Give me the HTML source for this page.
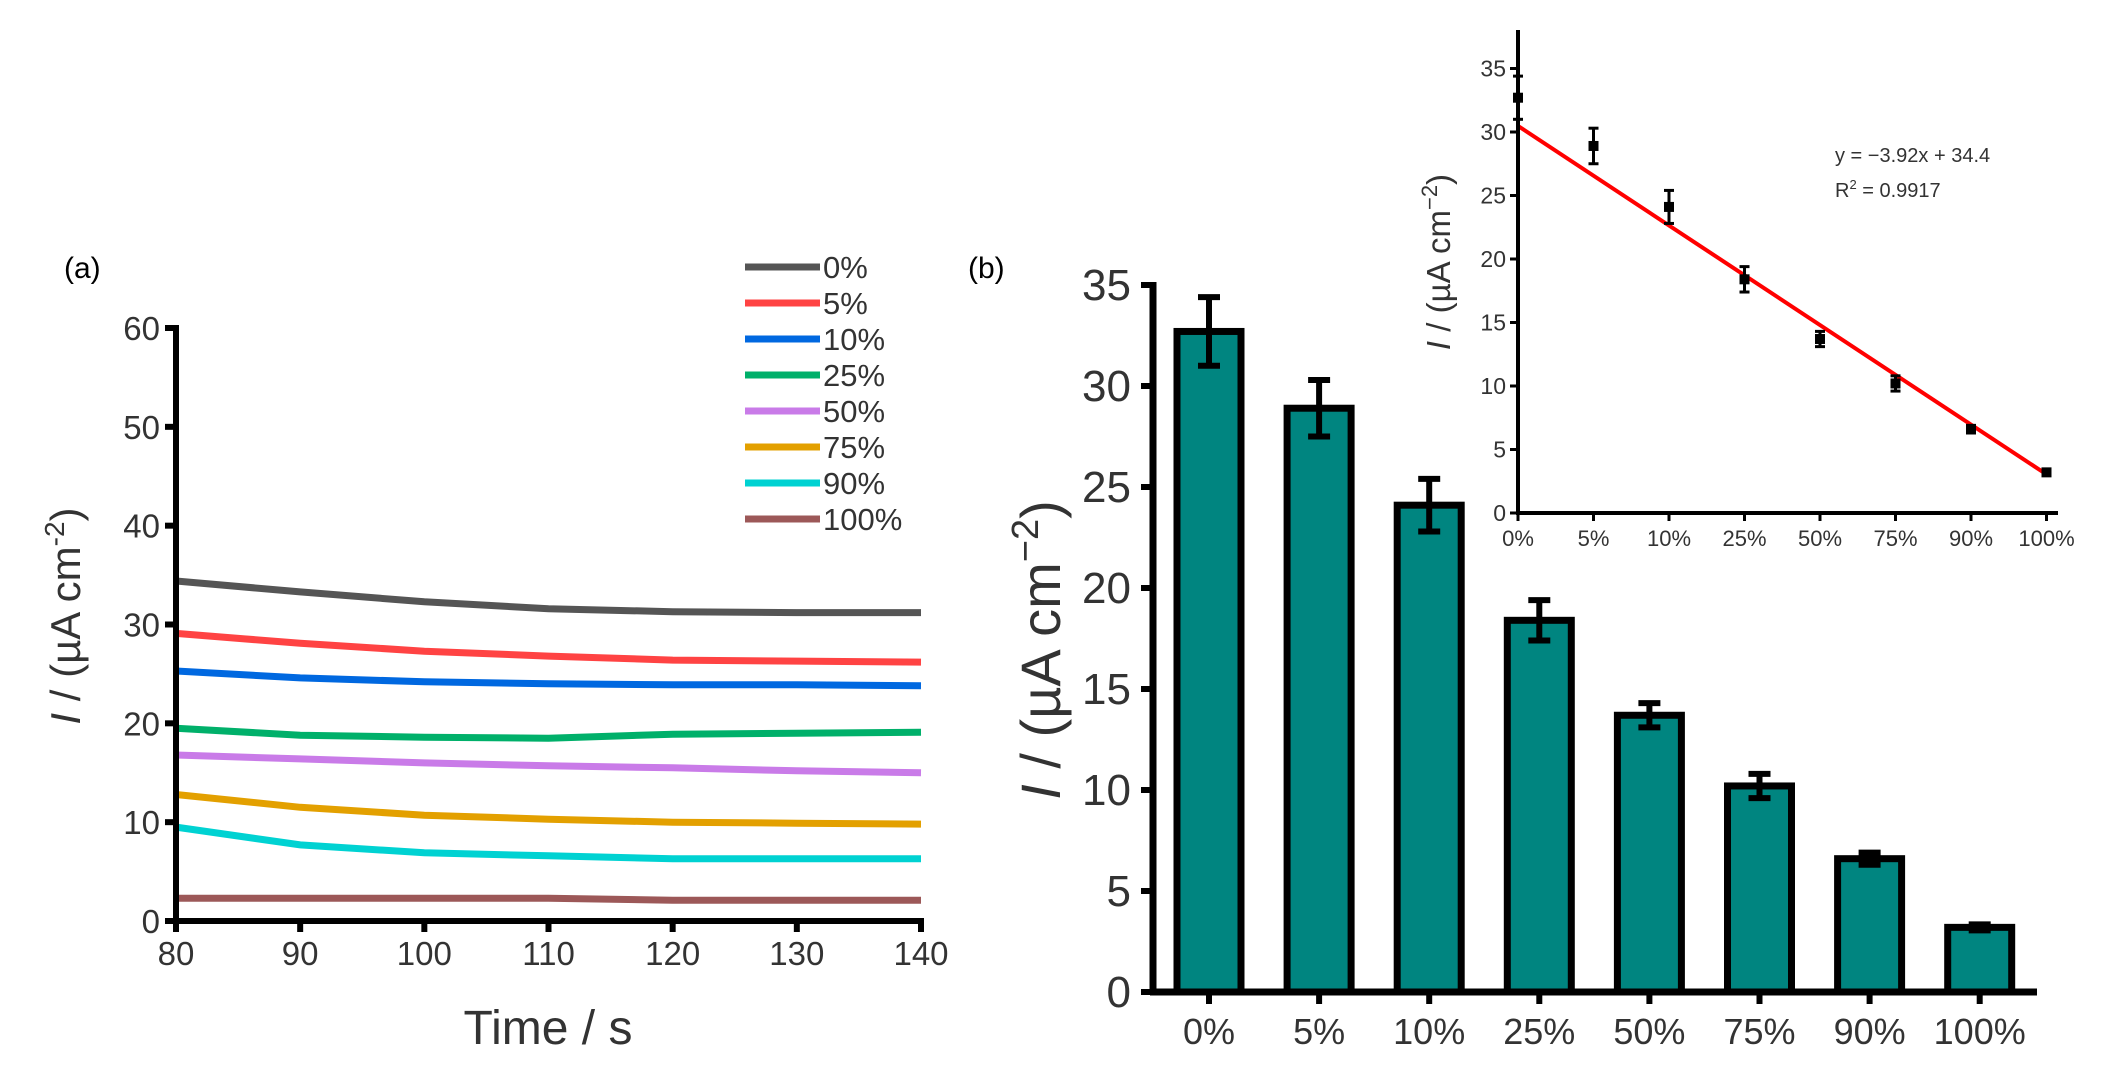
<!DOCTYPE html>
<html><head><meta charset="utf-8"><style>
html,body{margin:0;padding:0;background:#fff;}
svg{display:block;font-family:"Liberation Sans",Arial,sans-serif;}
</style></head><body>
<svg id="fig" width="2123" height="1089" viewBox="0 0 2123 1089"></svg>
<script>
const timeX=[80,90,100,110,120,130,140];
const seriesNames=["0%","5%","10%","25%","50%","75%","90%","100%"];
const seriesColors=["#555555","#ff4343","#0068e0","#00b06a","#c97be8","#e3a000","#00d2d2","#9c5858"];
const s0=[34.4,33.3,32.3,31.6,31.3,31.2,31.2];
const s5=[29.1,28.1,27.3,26.8,26.4,26.3,26.2];
const s10=[25.3,24.6,24.2,24.0,23.9,23.9,23.8];
const s25=[19.5,18.8,18.6,18.5,18.9,19.0,19.1];
const s50=[16.8,16.4,16.0,15.7,15.5,15.2,15.0];
const s75=[12.8,11.5,10.7,10.3,10.0,9.9,9.8];
const s90=[9.5,7.7,6.9,6.6,6.3,6.3,6.3];
const s100=[2.3,2.3,2.3,2.3,2.1,2.1,2.1];
const aYTicks=[0,10,20,30,40,50,60];
const aXTicks=[80,90,100,110,120,130,140];
const barCats=["0%","5%","10%","25%","50%","75%","90%","100%"];
const barVals=[32.7,28.9,24.1,18.4,13.7,10.2,6.6,3.2];
const barErr=[1.7,1.4,1.3,1.0,0.6,0.6,0.3,0.15];
const bYTicks=[0,5,10,15,20,25,30,35];
const insetYTicks=[0,5,10,15,20,25,30,35];
const fitSlope=-3.92, fitIntercept=34.4;

const NS="http://www.w3.org/2000/svg";
const svg=document.getElementById('fig');
function mk(tag,attrs,parent){const e=document.createElementNS(NS,tag);for(const k in attrs)e.setAttribute(k,attrs[k]);(parent||svg).appendChild(e);return e;}
function txt(s,attrs,parent){const e=mk('text',attrs,parent);e.textContent=s;return e;}

// ---------- Panel a ----------
const ax0=176, ax1=921, ay0=921, ay1=328;
const axX=v=>ax0+(v-80)/60*(ax1-ax0);
const axY=v=>ay0-(v/60)*(ay0-ay1);
const ga=mk('g',{});


let t=txt('(a)',{x:64,y:278,'font-size':30,fill:'#000'},ga);

const series=[s0,s5,s10,s25,s50,s75,s90,s100];
series.forEach((s,i)=>{
  let d='';
  s.forEach((v,j)=>{d+=(j?'L':'M')+axX(timeX[j]).toFixed(1)+','+axY(v).toFixed(1);});
  const p=mk('path',{d:d,fill:'none',stroke:seriesColors[i],'stroke-width':7},ga);
  
  
});
let l=mk('line',{x1:ax0,y1:ay1-3,x2:ax0,y2:ay0,stroke:'#000','stroke-width':6},ga);

l=mk('line',{x1:ax0-3,y1:ay0,x2:ax1+3,y2:ay0,stroke:'#000','stroke-width':6},ga);

aYTicks.forEach(v=>{
  mk('line',{x1:ax0-11,y1:axY(v),x2:ax0,y2:axY(v),stroke:'#000','stroke-width':6},ga);
  const e=txt(String(v),{x:ax0-16,y:axY(v)+12,'text-anchor':'end','font-size':33,fill:'#333'},ga);
  
  
});
aXTicks.forEach(v=>{
  mk('line',{x1:axX(v),y1:ay0,x2:axX(v),y2:ay0+11,stroke:'#000','stroke-width':6},ga);
  const e=txt(String(v),{x:axX(v),y:ay0+44,'text-anchor':'middle','font-size':33,fill:'#333'},ga);
  
  
});
t=txt('Time / s',{x:548,y:1044,'text-anchor':'middle','font-size':48,fill:'#333'},ga);

t=mk('text',{x:0,y:0,transform:'translate(80,616) rotate(-90)','text-anchor':'middle','font-size':42,fill:'#333'},ga);
t.innerHTML='<tspan font-style="italic">I</tspan> / (µA cm<tspan dy="-16" font-size="28">-2</tspan><tspan dy="16">)</tspan>';

seriesNames.forEach((n,i)=>{
  const y=267+i*36;
  const g=mk('g',{},ga);
  
  
  mk('line',{x1:745,y1:y,x2:820,y2:y,stroke:seriesColors[i],'stroke-width':7},g);
  txt(n,{x:823,y:y+11,'font-size':31,fill:'#333'},g);
});

// ---------- Panel b ----------
const bx0=1153, bx1=2037, by0=992, by1=285;
const bY=v=>by0-(v/35)*(by0-by1);
const bX=i=>1209+i*110.1;
const gb=mk('g',{});


t=txt('(b)',{x:968,y:278,'font-size':30,fill:'#000'},gb);

barVals.forEach((v,i)=>{
  const r=mk('rect',{x:bX(i)-32,y:bY(v),width:64,height:by0-bY(v),fill:'#008580',stroke:'#000','stroke-width':7},gb);
  
  
  const g=mk('g',{stroke:'#000','stroke-width':6},gb);
  
  
  const yt=bY(v+barErr[i]), yb=bY(v-barErr[i]);
  mk('line',{x1:bX(i),y1:yt,x2:bX(i),y2:yb},g);
  mk('line',{x1:bX(i)-11,y1:yt,x2:bX(i)+11,y2:yt},g);
  mk('line',{x1:bX(i)-11,y1:yb,x2:bX(i)+11,y2:yb},g);
});
l=mk('line',{x1:bx0,y1:by1-3,x2:bx0,y2:by0,stroke:'#000','stroke-width':7},gb);

l=mk('line',{x1:bx0-3,y1:by0,x2:bx1,y2:by0,stroke:'#000','stroke-width':7},gb);

bYTicks.forEach(v=>{
  mk('line',{x1:bx0-12,y1:bY(v),x2:bx0,y2:bY(v),stroke:'#000','stroke-width':6},gb);
  const e=txt(String(v),{x:bx0-22,y:bY(v)+15,'text-anchor':'end','font-size':44,fill:'#333'},gb);
  
  
});
barCats.forEach((c,i)=>{
  mk('line',{x1:bX(i),y1:by0,x2:bX(i),y2:by0+12,stroke:'#000','stroke-width':6},gb);
  const e=txt(c,{x:bX(i),y:by0+52,'text-anchor':'middle','font-size':36,fill:'#333'},gb);
  
  
});
t=mk('text',{x:0,y:0,transform:'translate(1060,650) rotate(-90)','text-anchor':'middle','font-size':56,fill:'#333'},gb);
t.innerHTML='<tspan font-style="italic">I</tspan> / (µA cm<tspan dy="-22" font-size="38">−2</tspan><tspan dy="22">)</tspan>';


// ---------- Inset ----------
const ix0=1518, iy0=513, iyTop=30;
const iY=v=>iy0-v*12.7;
const iX=i=>ix0+i*75.5;
const gi=mk('g',{});


const fx0=1, fx1=barCats.length;
let fl=mk('line',{x1:iX(0),y1:iY(fitSlope*fx0+fitIntercept),x2:iX(fx1-1),y2:iY(fitSlope*fx1+fitIntercept),stroke:'#ff0000','stroke-width':4},gi);

barVals.forEach((v,i)=>{
  const g=mk('g',{stroke:'#000','stroke-width':3,fill:'#000'},gi);
  
  
  const yt=iY(v+barErr[i]), yb=iY(v-barErr[i]);
  mk('line',{x1:iX(i),y1:yt,x2:iX(i),y2:yb},g);
  mk('line',{x1:iX(i)-5,y1:yt,x2:iX(i)+5,y2:yt},g);
  mk('line',{x1:iX(i)-5,y1:yb,x2:iX(i)+5,y2:yb},g);
  mk('rect',{x:iX(i)-5,y:iY(v)-5,width:10,height:10,stroke:'none'},g);
});
l=mk('line',{x1:ix0,y1:iyTop,x2:ix0,y2:iy0,stroke:'#000','stroke-width':4},gi);

l=mk('line',{x1:ix0-2,y1:iy0,x2:2058,y2:iy0,stroke:'#000','stroke-width':4},gi);

insetYTicks.forEach(v=>{
  mk('line',{x1:ix0-8,y1:iY(v),x2:ix0,y2:iY(v),stroke:'#000','stroke-width':3},gi);
  const e=txt(String(v),{x:ix0-12,y:iY(v)+8,'text-anchor':'end','font-size':23,fill:'#333'},gi);
  
  
});
barCats.forEach((c,i)=>{
  mk('line',{x1:iX(i),y1:iy0,x2:iX(i),y2:iy0+8,stroke:'#000','stroke-width':3},gi);
  const e=txt(c,{x:iX(i),y:iy0+33,'text-anchor':'middle','font-size':22,fill:'#333'},gi);
  
  
});
t=mk('text',{x:0,y:0,transform:'translate(1450,262) rotate(-90)','text-anchor':'middle','font-size':33,fill:'#333'},gi);
t.innerHTML='<tspan font-style="italic">I</tspan> / (µA cm<tspan dy="-13" font-size="22">−2</tspan><tspan dy="13">)</tspan>';

t=txt('y = −3.92x + 34.4',{x:1835,y:162,'font-size':20,fill:'#333'},gi);

t=mk('text',{x:1835,y:197,'font-size':20,fill:'#333'},gi);
t.innerHTML='R<tspan dy="-8" font-size="13">2</tspan><tspan dy="8"> = 0.9917</tspan>';

</script>
</body></html>
